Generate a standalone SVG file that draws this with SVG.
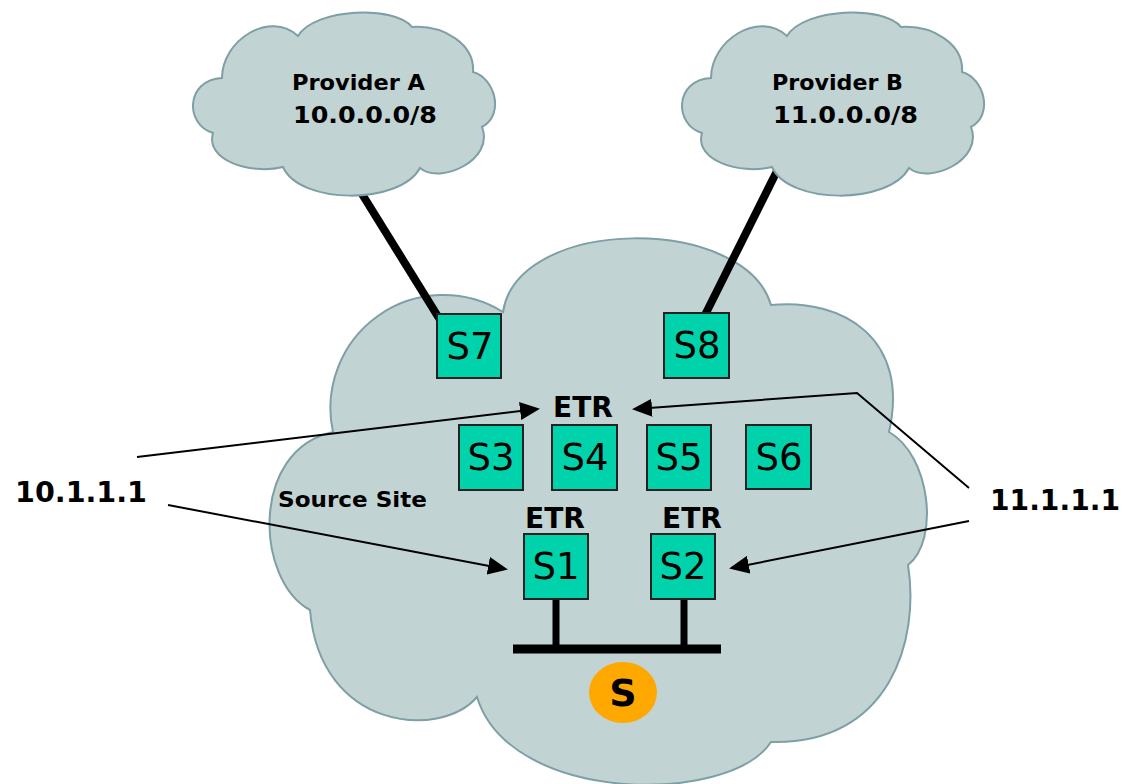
<svg xmlns="http://www.w3.org/2000/svg" width="1128" height="784" viewBox="0 0 1128 784">
  <style>
    .cloud { fill: #C2D3D3; stroke: #7E9FA5; stroke-width: 2; }
    .box { fill: #00D3AC; stroke: #222; stroke-width: 2; }
    .lbl { font-family: "Comic Sans MS", "DejaVu Sans", sans-serif; fill: #000; }
    .b { font-weight: bold; }
    .sw { font-size: 37px; text-anchor: middle; }
    .etr { font-size: 28px; font-weight: bold; text-anchor: middle; }
    .link { stroke: #000; stroke-width: 8; fill: none; }
    .wire { stroke: #000; stroke-width: 2; fill: none; marker-end: url(#head); }
    .bus { stroke: #000; fill: none; }
  </style>
  <defs>
    <marker id="head" markerUnits="userSpaceOnUse" markerWidth="20" markerHeight="18" refX="17" refY="9" orient="auto">
      <path d="M0,0 L20,9 L0,18 Z" fill="#000"/>
    </marker>
    <!-- small provider cloud outline -->
    <path id="pcloud" d="M222,78 C222,40 270,10 298,36 C315,8 395,5 412,27 C445,25 475,45 473,72 C495,78 505,115 482,127 C495,160 440,185 420,168 C400,205 300,205 283,167 C250,175 205,160 213,133 C185,125 185,80 222,78 Z"/>
  </defs>

  <rect width="1128" height="784" fill="#fff"/>

  <!-- source site cloud -->
  <g id="site">
    <path class="cloud" d="M333,432 A113,113 0 0 1 503,312 C518,215 745,215 771,305 C845,298 910,340 889,432 C930,455 940,540 908,565 C920,640 890,745 771,742 C730,805 510,805 477,697 C440,740 320,730 310,610 C255,580 250,450 333,432 Z"/>
    <text class="lbl b" x="278" y="507" font-size="21" textLength="149" lengthAdjust="spacingAndGlyphs">Source Site</text>
  </g>

  <!-- links and arrows -->
  <g id="connectors">
    <line class="link" x1="362" y1="194" x2="442" y2="323"/>
    <line class="link" x1="777" y1="171" x2="704" y2="317"/>
    <line class="wire" x1="137" y1="457" x2="537" y2="409"/>
    <line class="wire" x1="168" y1="505" x2="505" y2="569"/>
    <polyline class="wire" points="969,488 857,393 635,409"/>
    <line class="wire" x1="969" y1="521" x2="732" y2="568"/>
    <line class="bus" x1="556" y1="598" x2="556" y2="649" stroke-width="7"/>
    <line class="bus" x1="684" y1="598" x2="684" y2="649" stroke-width="7"/>
    <line class="bus" x1="513" y1="649" x2="721" y2="649" stroke-width="9"/>
  </g>

  <g id="providerA">
    <use href="#pcloud" class="cloud"/>
    <text class="lbl b" x="292" y="90" font-size="22" textLength="133" lengthAdjust="spacingAndGlyphs">Provider A</text>
    <text class="lbl b" x="293" y="123" font-size="23" textLength="144" lengthAdjust="spacingAndGlyphs">10.0.0.0/8</text>
  </g>
  <g id="providerB">
    <use href="#pcloud" class="cloud" transform="translate(489,0)"/>
    <text class="lbl b" x="772" y="90" font-size="22" textLength="131" lengthAdjust="spacingAndGlyphs">Provider B</text>
    <text class="lbl b" x="773" y="123" font-size="23" textLength="145" lengthAdjust="spacingAndGlyphs">11.0.0.0/8</text>
  </g>

  <g id="S7"><rect class="box" x="437" y="314" width="64" height="64"/><text class="lbl sw" x="470" y="359">S7</text></g>
  <g id="S8"><rect class="box" x="664" y="313" width="65" height="65"/><text class="lbl sw" x="697" y="358">S8</text></g>

  <g id="etr-top"><text class="lbl etr" x="583" y="417">ETR</text></g>

  <g id="S3"><rect class="box" x="459" y="425" width="64" height="65"/><text class="lbl sw" x="491" y="470">S3</text></g>
  <g id="S4"><rect class="box" x="552" y="425" width="65" height="65"/><text class="lbl sw" x="585" y="470">S4</text></g>
  <g id="S5"><rect class="box" x="647" y="425" width="64" height="65"/><text class="lbl sw" x="679" y="470">S5</text></g>
  <g id="S6"><rect class="box" x="746" y="425" width="65" height="64"/><text class="lbl sw" x="779" y="470">S6</text></g>

  <g id="S1">
    <text class="lbl etr" x="555" y="528">ETR</text>
    <rect class="box" x="524" y="534" width="64" height="65"/>
    <text class="lbl sw" x="556" y="579">S1</text>
  </g>
  <g id="S2">
    <text class="lbl etr" x="692" y="528">ETR</text>
    <rect class="box" x="651" y="534" width="64" height="65"/>
    <text class="lbl sw" x="683" y="579">S2</text>
  </g>

  <g id="source">
    <ellipse cx="623" cy="692.5" rx="34" ry="30.5" fill="#FFA800"/>
    <text class="lbl b" x="623" y="706" font-size="38" text-anchor="middle">S</text>
  </g>

  <g id="addr10"><text class="lbl b" x="15" y="502" font-size="28" textLength="132" lengthAdjust="spacingAndGlyphs">10.1.1.1</text></g>
  <g id="addr11"><text class="lbl b" x="990" y="510" font-size="28" textLength="130" lengthAdjust="spacingAndGlyphs">11.1.1.1</text></g>
</svg>
